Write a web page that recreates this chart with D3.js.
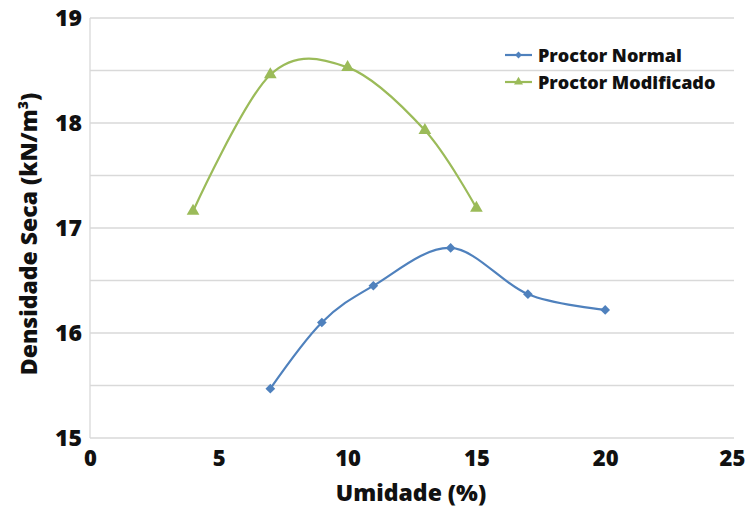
<!DOCTYPE html>
<html><head><meta charset="utf-8">
<script src="https://cdn.jsdelivr.net/npm/d3@7"></script>
<style>body{margin:0;background:#fff}svg{display:block}text{font-family:"Open Sans",Lato,sans-serif;font-weight:800;fill:#111}</style>
</head><body>
<script>
const normalX = [7, 9, 11, 14, 17, 20];
const normalY = [15.47, 16.10, 16.45, 16.81, 16.37, 16.22];
const modX = [4, 7, 10, 13, 15];
const modY = [17.16, 18.46, 18.53, 17.93, 17.19];
const xTicks = [0, 5, 10, 15, 20, 25];
const yTicks = [15, 16, 17, 18, 19];
const yGrid = [15, 15.5, 16, 16.5, 17, 17.5, 18, 18.5, 19];
const seriesNames = ["Proctor Normal", "Proctor Modificado"];

const W = 747, H = 507;
const svg = d3.select("body").append("svg").attr("width", W).attr("height", H);
const x = d3.scaleLinear().domain([0, 25]).range([90, 734]);
const y = d3.scaleLinear().domain([15, 19]).range([438, 18]);

svg.append("g").selectAll("line").data(yGrid).join("line")
  .attr("x1", x(0)).attr("x2", x(25)).attr("y1", d => y(d)).attr("y2", d => y(d))
  .attr("stroke", "#d9d9d9").attr("stroke-width", 1.3);
svg.append("line").attr("x1", x(0)).attr("x2", x(0)).attr("y1", y(19)).attr("y2", y(15))
  .attr("stroke", "#d9d9d9").attr("stroke-width", 1.3);

const ax = svg.append("g").attr("transform", `translate(0,${y(15)})`)
  .call(d3.axisBottom(x).tickValues(xTicks).tickSize(0).tickPadding(12));
ax.select(".domain").remove();
ax.selectAll("text").style("font-size", "22px").attr("fill", "#111")
  .attr("dx", d => d === 25 ? -2 : 0);
const ay = svg.append("g").attr("transform", `translate(${x(0)},0)`)
  .call(d3.axisLeft(y).tickValues(yTicks).tickFormat(d3.format("d")).tickSize(0).tickPadding(8));
ay.select(".domain").remove();
ay.selectAll("text").style("font-size", "23px").attr("fill", "#111");

svg.append("text").attr("x", 411).attr("y", 501).attr("text-anchor", "middle")
  .style("font-size", "23px").text("Umidade (%)");
const yt = svg.append("text").attr("transform", "translate(37,234) rotate(-90)")
  .attr("text-anchor", "middle").style("font-size", "23px");
yt.append("tspan").text("Densidade Seca (kN/m");
yt.append("tspan").attr("dy", -9).style("font-size", "14px").text("3");
yt.append("tspan").attr("dy", 9).text(")");

const line = d3.line().x(d => x(d[0])).y(d => y(d[1])).curve(d3.curveCardinal.tension(0));
const normal = normalX.map((v, i) => [v, normalY[i]]);
const mod = modX.map((v, i) => [v, modY[i]]);
const blue = "#4f81bd", green = "#9bbb59";

svg.append("path").datum(normal).attr("d", line).attr("fill", "none").attr("stroke", blue).attr("stroke-width", 2.2);
svg.append("path").datum(mod).attr("d", line).attr("fill", "none").attr("stroke", green).attr("stroke-width", 2.2);

const diamond = d3.symbol().type(d3.symbolDiamond2).size(60);
const tri = d3.symbol().type(d3.symbolTriangle).size(70);
svg.append("g").selectAll("path").data(normal).join("path")
  .attr("d", diamond).attr("transform", d => `translate(${x(d[0])},${y(d[1])})`).attr("fill", blue);
svg.append("g").selectAll("path").data(mod).join("path")
  .attr("d", tri).attr("transform", d => `translate(${x(d[0])},${y(d[1])})`).attr("fill", green);

const lg = svg.append("g");
[[blue, 55], [green, 82]].forEach((s, i) => {
  lg.append("line").attr("x1", 505).attr("x2", 532).attr("y1", s[1]).attr("y2", s[1])
    .attr("stroke", s[0]).attr("stroke-width", 2.2);
  lg.append("path").attr("d", i === 0 ? d3.symbol().type(d3.symbolDiamond2).size(30)() : d3.symbol().type(d3.symbolTriangle).size(35)())
    .attr("transform", `translate(518.5,${s[1]})`).attr("fill", s[0]);
  lg.append("text").attr("x", 538).attr("y", s[1] + 7).style("font-size", "18px").text(seriesNames[i]);
});
</script>
</body></html>
